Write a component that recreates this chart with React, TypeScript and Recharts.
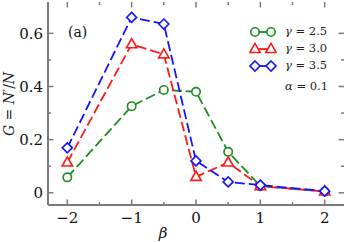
import React from "react";
import { LineChart, Line, XAxis, YAxis, Legend } from "recharts";

// ─── Data ────────────────────────────────────────────────────────────────────
const betas = [-2, -1, -0.5, 0, 0.5, 1, 2];
const gamma25 = [0.058, 0.326, 0.387, 0.38, 0.154, 0.025, 0.005];
const gamma30 = [0.114, 0.559, 0.521, 0.06, 0.114, 0.025, 0.005];
const gamma35 = [0.169, 0.66, 0.635, 0.12, 0.041, 0.029, 0.006];

const xTicks = [-2, -1.5, -1, -0.5, 0, 0.5, 1, 1.5, 2];
const yTicks = [0, 0.1, 0.2, 0.3, 0.4, 0.5, 0.6];
const xLabelTicks = [-2, -1, 0, 1, 2];
const yLabelTicks = [0, 0.2, 0.4, 0.6];

const SERIES = [
  { key: "g25", name: "2.5", values: gamma25, color: "#1e8c1e", shape: "circle" },
  { key: "g30", name: "3.0", values: gamma30, color: "#ff1a1a", shape: "triangle" },
  { key: "g35", name: "3.5", values: gamma35, color: "#1414ff", shape: "diamond" },
];

const data = betas.map((b, i) => ({
  beta: b,
  g25: gamma25[i],
  g30: gamma30[i],
  g35: gamma35[i],
}));

// ─── Layout ──────────────────────────────────────────────────────────────────
const W = 346;
const H = 242;
const LEFT = 48;
const RIGHT = 344;
const TOP = 2;
const BOTTOM = 205;
const AXIS = "#7a7a7a";
const FONT = "'DejaVu Serif', serif";

const fmt = (v: number) => (v < 0 ? `\u2212${Math.abs(v)}` : `${v}`);

function Marker({ cx, cy, shape, color }: any) {
  if (cx == null || cy == null) return null;
  const common = { fill: "#fff", stroke: color, strokeWidth: 1.6 };
  if (shape === "circle") return <circle cx={cx} cy={cy} r={4.2} {...common} />;
  if (shape === "triangle")
    return (
      <polygon
        points={`${cx},${cy - 5.6} ${cx - 5.2},${cy + 3.5} ${cx + 5.2},${cy + 3.5}`}
        {...common}
      />
    );
  return (
    <polygon
      points={`${cx},${cy - 5} ${cx + 5},${cy} ${cx},${cy + 5} ${cx - 5},${cy}`}
      {...common}
    />
  );
}

// inward ticks on the bottom and top edges, labels below the bottom one
function XTick({ x, payload }: any) {
  const v = payload.value;
  const major = xLabelTicks.includes(v);
  const len = major ? 5.5 : 3;
  return (
    <g>
      <line x1={x} x2={x} y1={BOTTOM} y2={BOTTOM - len} stroke={AXIS} strokeWidth={1.5} />
      <line x1={x} x2={x} y1={TOP} y2={TOP + len} stroke={AXIS} strokeWidth={1.5} />
      {major && (
        <text x={x} y={223} textAnchor="middle" style={{ fontFamily: FONT }} fontSize={15} fill="#111">
          {fmt(v)}
        </text>
      )}
    </g>
  );
}

function YTick({ y, payload }: any) {
  const v = payload.value;
  const major = yLabelTicks.some((t) => Math.abs(t - v) < 1e-9);
  const len = major ? 5.5 : 3;
  return (
    <g>
      <line x1={LEFT} x2={LEFT + len} y1={y} y2={y} stroke={AXIS} strokeWidth={1.5} />
      <line x1={RIGHT} x2={RIGHT - len} y1={y} y2={y} stroke={AXIS} strokeWidth={1.5} />
      {major && (
        <text x={43} y={y + 5.5} textAnchor="end" style={{ fontFamily: FONT }} fontSize={15} fill="#111">
          {v === 0 ? "0" : v.toFixed(1)}
        </text>
      )}
    </g>
  );
}

function LegendIcon({ shape, color }: { shape: string; color: string }) {
  return (
    <svg width={28} height={14} style={{ display: "block" }}>
      <line x1={6} x2={22} y1={7} y2={7} stroke={color} strokeWidth={1.8} />
      <Marker cx={6} cy={7} shape={shape} color={color} />
      <Marker cx={22} cy={7} shape={shape} color={color} />
    </svg>
  );
}

function LegendBox() {
  return (
    <div style={{ fontFamily: FONT, fontSize: 11.5, color: "#222", lineHeight: "17px" }}>
      {SERIES.map((s) => (
        <div key={s.key} style={{ display: "flex", alignItems: "center", height: 17 }}>
          <LegendIcon shape={s.shape} color={s.color} />
          <span style={{ marginLeft: 8 }}>
            <i>γ</i> = {s.name}
          </span>
        </div>
      ))}
      <div style={{ marginLeft: 36, marginTop: 4 }}>
        <i>α</i> = 0.1
      </div>
    </div>
  );
}

export default function App() {
  return (
    <div style={{ position: "absolute", left: 0, top: 0, width: W, height: H, background: "#fff" }}>
      <LineChart
        width={W}
        height={H}
        data={data}
        margin={{ top: TOP, right: W - RIGHT, bottom: 0, left: 0 }}
      >
        <XAxis
          dataKey="beta"
          type="number"
          domain={[-2.3, 2.3]}
          ticks={xTicks}
          interval={0}
          allowDataOverflow
          height={H - BOTTOM}
          tickLine={false}
          axisLine={{ stroke: AXIS, strokeWidth: 2 }}
          tick={<XTick />}
          label={{
            content: () => (
              <g style={{ fontFamily: FONT }} fill="#111">
                <text x={163} y={238} textAnchor="middle" fontSize={15} fontStyle="italic">
                  β
                </text>
                <text x={68} y={37} fontSize={14}>
                  (a)
                </text>
              </g>
            ),
          }}
        />
        <XAxis
          xAxisId="top"
          orientation="top"
          dataKey="beta"
          type="number"
          domain={[-2.3, 2.3]}
          allowDataOverflow
          height={0}
          tick={false}
          tickLine={false}
          axisLine={{ stroke: AXIS, strokeWidth: 2 }}
        />
        <YAxis
          type="number"
          domain={[-0.046, 0.718]}
          ticks={yTicks}
          interval={0}
          allowDataOverflow
          width={LEFT}
          tickLine={false}
          axisLine={{ stroke: AXIS, strokeWidth: 2 }}
          tick={<YTick />}
          label={{
            content: () => (
              <text
                transform="translate(14,104) rotate(-90)"
                textAnchor="middle"
                style={{ fontFamily: FONT }}
                fontSize={14}
                fill="#222"
              >
                <tspan fontStyle="italic">G</tspan> = <tspan fontStyle="italic">N</tspan>′/<tspan fontStyle="italic">N</tspan>
              </text>
            ),
          }}
        />
        <YAxis
          yAxisId="right"
          orientation="right"
          type="number"
          domain={[-0.046, 0.718]}
          allowDataOverflow
          width={0}
          tick={false}
          tickLine={false}
          axisLine={{ stroke: AXIS, strokeWidth: 2 }}
        />
        <Legend
          layout="vertical"
          align="center"
          verticalAlign="middle"
          content={() => <LegendBox />}
          wrapperStyle={{ position: "absolute", left: 249, top: 23, width: 95 }}
        />
        {SERIES.map((s) => (
          <Line
            key={s.key}
            dataKey={s.key}
            name={s.name}
            stroke={s.color}
            strokeWidth={1.8}
            strokeDasharray="10 4"
            isAnimationActive={false}
            dot={(p: any) => <Marker key={`${s.key}-${p.index}`} cx={p.cx} cy={p.cy} shape={s.shape} color={s.color} />}
            activeDot={false}
          />
        ))}
      </LineChart>
    </div>
  );
}
